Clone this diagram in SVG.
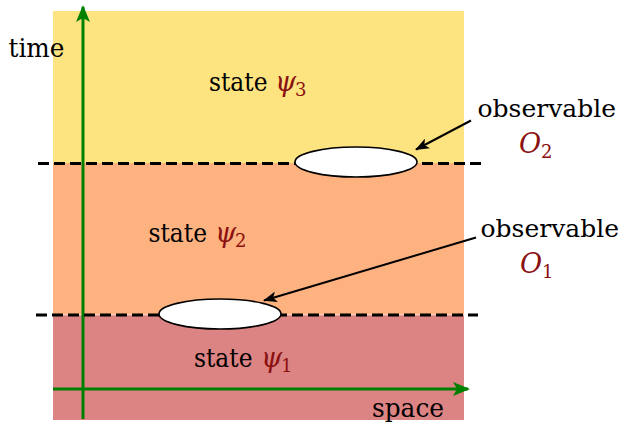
<svg xmlns="http://www.w3.org/2000/svg" width="621" height="427" viewBox="0 0 621 427">
<defs>
<style>
.t{font-family:"DejaVu Serif","Liberation Serif",serif;font-size:26px;fill:#000}
.o{font-size:25px}
.m{font-family:"DejaVu Serif","Liberation Serif",serif;font-size:27px;font-style:italic;fill:#8b1010}
.s{font-size:18px;font-style:normal}
.dash{stroke:#000;stroke-width:3;stroke-dasharray:11 5;fill:none}
.ax{stroke:#008000;stroke-width:3;fill:none}
.ptr{stroke:#000;stroke-width:2;fill:none}
.obs{fill:#fff;stroke:#000;stroke-width:1.6}
</style>
<marker id="ga" viewBox="0 0 17 14" refX="15" refY="7" markerUnits="userSpaceOnUse" markerWidth="17" markerHeight="14" orient="auto">
<path d="M0,0 L17,7 L0,14 L4,7 Z" fill="#008000"/>
</marker>
<marker id="ka" viewBox="0 0 14 11" refX="13" refY="5.5" markerUnits="userSpaceOnUse" markerWidth="14" markerHeight="11" orient="auto">
<path d="M0,0 L14,5.5 L0,11 L3.5,5.5 Z" fill="#000"/>
</marker>
</defs>
<rect width="621" height="427" fill="#fff"/>
<g id="bands">
<rect x="53" y="11" width="411" height="152.5" fill="#fee381"/>
<rect x="53" y="163" width="411" height="151.5" fill="#fdb280"/>
<rect x="53" y="315.2" width="411" height="104.8" fill="#dc8383"/>
</g>
<g id="connectors">
<line class="ax" x1="83" y1="419" x2="83" y2="7" marker-end="url(#ga)"/>
<line class="ax" x1="53" y1="389" x2="468" y2="389" marker-end="url(#ga)"/>
<line class="dash" x1="38" y1="163.5" x2="481" y2="163.5"/>
<line class="dash" x1="36" y1="315" x2="478" y2="315"/>
<line class="ptr" x1="471" y1="120.5" x2="416" y2="149.5" marker-end="url(#ka)"/>
<line class="ptr" x1="476" y1="237.5" x2="264" y2="300.5" marker-end="url(#ka)"/>
</g>
<g id="observable2">
<ellipse class="obs" cx="356" cy="162" rx="61" ry="15"/>
<text class="t o" x="477.5" y="116.5">observable</text>
<text class="m" x="519" y="153">O<tspan class="s" x="541" dy="5">2</tspan></text>
</g>
<g id="observable1">
<ellipse class="obs" cx="220" cy="314" rx="61" ry="15"/>
<text class="t o" x="480.5" y="237">observable</text>
<text class="m" x="520" y="273">O<tspan class="s" x="542" dy="5">1</tspan></text>
</g>
<g id="state3">
<text class="t" x="209" y="90.5" textLength="58.5" lengthAdjust="spacingAndGlyphs">state</text>
<text class="m" x="275" y="90.5">ψ<tspan class="s" x="295" dy="5">3</tspan></text>
</g>
<g id="state2">
<text class="t" x="148.5" y="241.5" textLength="58.5" lengthAdjust="spacingAndGlyphs">state</text>
<text class="m" x="215" y="241.5">ψ<tspan class="s" x="235" dy="5">2</tspan></text>
</g>
<g id="state1">
<text class="t" x="194" y="366.5" textLength="58.5" lengthAdjust="spacingAndGlyphs">state</text>
<text class="m" x="261" y="366.5">ψ<tspan class="s" x="281" dy="5">1</tspan></text>
</g>
<g id="labels">
<text class="t" x="8.5" y="56.5" textLength="56" lengthAdjust="spacingAndGlyphs">time</text>
<text class="t" x="372" y="416.5" textLength="72" lengthAdjust="spacingAndGlyphs">space</text>
</g>
</svg>
